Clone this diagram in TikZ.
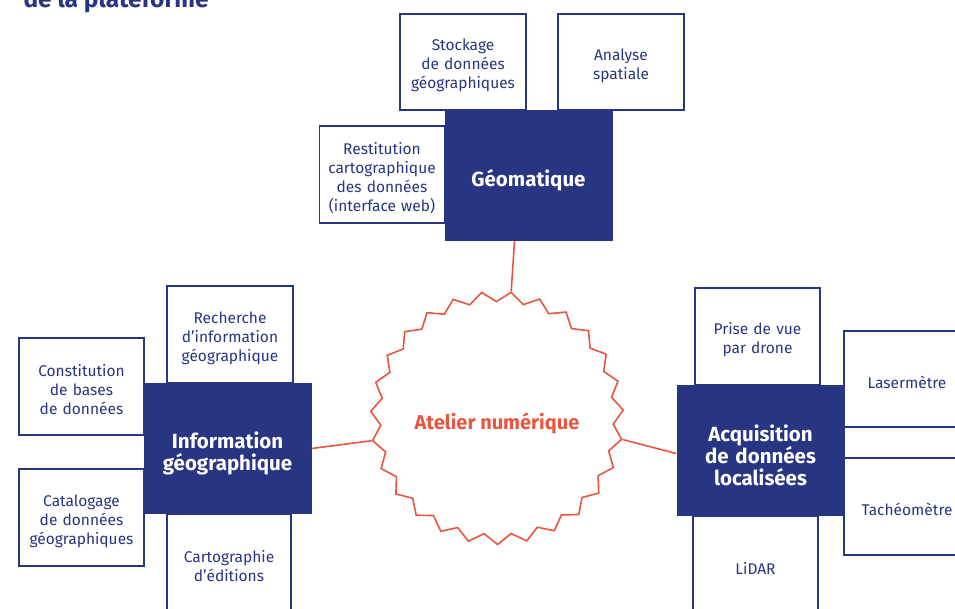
\documentclass[tikz,border=0pt]{standalone}
\usepackage{fontspec}
\setmainfont{Fira Sans}
\usetikzlibrary{shapes.geometric}
\definecolor{marine}{HTML}{283583}
\definecolor{corail}{HTML}{E9553F}

\begin{document}
\begin{tikzpicture}[x=1pt,y=-1pt,
  boite/.style={draw=marine, line width=1.6pt, fill=white, text=marine, align=center, inner sep=0pt, minimum width=126pt, minimum height=97pt, text width=120pt, text height=19pt, font=\fontsize{15.5}{19}\selectfont},
  pole/.style={fill=marine, text=white, align=center, inner sep=0pt, minimum width=168pt, minimum height=131pt, text width=160pt, text height=26pt, font=\fontsize{20.5}{22}\selectfont\bfseries},
  lien/.style={draw=corail, line width=1.6pt}]
\useasboundingbox (0,0) rectangle (955,608);

%Titre
\node[anchor=base west, text=marine, font=\fontsize{24.5}{28}\selectfont\bfseries] (titre) at (20,7) {de la plateforme};

%Geomatique
\node[boite, minimum height=96pt] (stockage) at (463,62) {Stockage\\de données\\géographiques};
\node[boite, minimum height=96pt] (analyse) at (621,62) {Analyse\\spatiale};
\node[boite, minimum width=125pt] (restitution) at (382,174.5) {Restitution\\cartographique\\des données\\(interface web)};
\node[pole] (geomatique) at (528.5,175.5) {Géomatique};

%Information geographique
\node[boite] (recherche) at (230,334.5) {Recherche\\d’information\\géographique};
\node[boite, minimum width=125pt] (constitution) at (81.5,386.5) {Constitution\\de bases\\de données};
\node[boite, minimum width=125pt] (catalogage) at (81.5,517.5) {Catalogage\\de données\\géographiques};
\node[boite, minimum width=124pt] (cartographie) at (229,562.5) {Cartographie\\d’éditions};
\node[pole] (infogeo) at (227.5,448.5) {Information\\géographique};

%Acquisition
\node[boite, minimum width=125pt] (drone) at (757.5,336.5) {Prise de vue\\par drone};
\node[boite, minimum height=96pt] (lasermetre) at (907,379) {Lasermètre};
\node[boite] (tacheometre) at (907,506.5) {Tachéomètre};
\node[boite, minimum width=125pt] (lidar) at (755.5,564.5) {LiDAR};
\node[pole] (acquisition) at (760.5,450.5) {Acquisition\\de données\\localisées};

%Atelier
\node[star, star points=27, star point ratio=1.086, shape border rotate=-6.4, minimum size=252pt, inner sep=0pt, draw=corail, line width=1.6pt, text=corail, text height=27pt, text depth=4pt, font=\fontsize{20}{24}\selectfont\bfseries] (atelier) at (497,418) {Atelier numérique};

%Liens
\draw[lien] ([xshift=-14pt]geomatique.south) -- (atelier.outer point 1);
\draw[lien] (infogeo.east) -- (atelier.outer point 9);
\draw[lien] (atelier.outer point 21) -- ([yshift=-3pt]acquisition.west);
\end{tikzpicture}
\end{document}
